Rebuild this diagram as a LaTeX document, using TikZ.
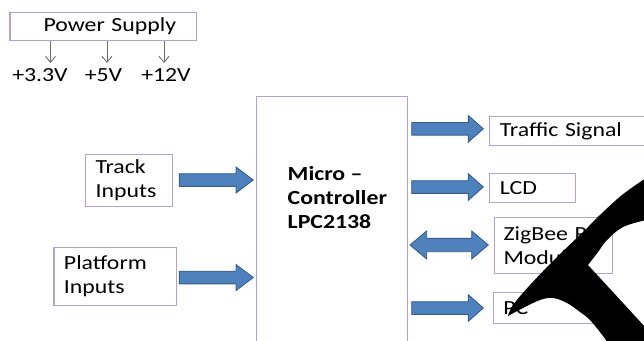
\documentclass[tikz,border=0pt]{standalone}
\usepackage{fontspec}
\setmainfont{Carlito}[FakeStretch=1.19]
\usetikzlibrary{arrows.meta}
\definecolor{boxline}{HTML}{B3A2C7}
\definecolor{arrfill}{HTML}{4F81BD}
\definecolor{arrline}{HTML}{385D8A}
\definecolor{psline}{HTML}{6F6F6F}
\newcommand\mytext{\fontsize{20}{24}\selectfont}
\tikzset{
  box/.style={draw=boxline, line width=1.1pt, rectangle, anchor=north west,
    inner xsep=10pt, inner ysep=0pt, align=left, font=\mytext},
  lbl/.style={font=\mytext, inner sep=0pt},
  psarrow/.style={draw=psline, line width=0.9pt, -{Straight Barb[length=6pt,width=10pt]}},
  blk/.style={fill=arrfill, draw=arrline, line width=0.9pt, line join=miter},
  rarrow/.pic={\path[blk] (0,-6.3) -- (56.7,-6.3) -- (56.7,-13) -- (74,0) -- (56.7,13) -- (56.7,6.3) -- (0,6.3) -- cycle;},
  rarrowb/.pic={\path[blk] (0,-6.3) -- (56.6,-6.3) -- (56.6,-13.3) -- (71.6,0) -- (56.6,13.3) -- (56.6,6.3) -- (0,6.3) -- cycle;},
  darrow/.pic={\path[blk] (0,0) -- (16.7,-14) -- (16.7,-6.7) -- (61.7,-6.7) -- (61.7,-14) -- (78.3,0) -- (61.7,14) -- (61.7,6.7) -- (16.7,6.7) -- (16.7,14) -- cycle;}
}
\begin{document}
\begin{tikzpicture}[x=1pt,y=-1pt]
\useasboundingbox (0,0) rectangle (644,340);
\clip (0,0) rectangle (644,340);
\fill[white] (0,0) rectangle (644,340);

% power supply
\node[box, inner xsep=0pt, text width=186.9pt, minimum height=28.3pt] (ps) at (9.4,11.7) {\hspace*{33.6pt}\mbox{Power Supply}};
\node[lbl] (v1) at (40,75) {+3.3V};
\node[lbl] (v2) at (103.5,75) {+5V};
\node[lbl] (v3) at (166,75) {+12V};
\coordinate (a1) at (50.5,63);
\coordinate (a2) at (107,63);
\coordinate (a3) at (164,63);
\draw[psarrow] (ps.south -| a1) -- (a1);
\draw[psarrow] (ps.south -| a2) -- (a2);
\draw[psarrow] (ps.south -| a3) -- (a3);

% inputs
\node[box, text width=67pt, minimum height=52pt] (track) at (85,154) {Track\\Inputs};
\node[box, text width=102.4pt, minimum height=58.3pt] (plat) at (53.4,246.7) {Platform\\Inputs};

% micro controller
\node[box, text width=130.7pt, minimum height=270pt] (mc) at (256,96) {};
\node[lbl, anchor=west, align=left, font=\mytext\bfseries] (mctext) at (287.5,198) {Micro --\\Controller\\LPC2138};

% outputs
\node[box, text width=150pt, minimum height=29pt] (traffic) at (489.3,116) {Traffic Signal};
\node[box, text width=65.7pt, minimum height=29pt] (lcd) at (489.3,172.7) {LCD};
\node[box, inner xsep=9pt, text width=99.7pt, minimum height=55.4pt] (zig) at (494,217.3) {ZigBee RF\\Module};
\node[box, text width=93.3pt, minimum height=31pt] (pc) at (492.7,291.7) {PC};

% block arrows
\pic at (179.3,180) {rarrow};
\pic at (179.3,277.5) {rarrow};
\pic at (411.7,128.8) {rarrowb};
\pic at (411.7,187) {rarrowb};
\pic at (410,245) {darrow};
\pic at (411.7,308) {rarrowb};

% black overlay stroke
\fill[black] (508,316)
  -- plot[smooth, tension=0.6] coordinates {(508,316) (513,305) (530,285) (556,258) (582,233) (600,215) (622,195) (646,178)}
  -- (646,220)
  -- plot[smooth, tension=0.6] coordinates {(646,220) (623,227) (607,240) (598,252) (588,265)}
  -- (646,328) -- (646,342) -- (607,342)
  -- plot[smooth, tension=0.6] coordinates {(607,342) (603,336) (590,320) (580,312) (567,303) (553,298) (540,300) (523,308) (508,316)}
  -- cycle;
\end{tikzpicture}
\end{document}
